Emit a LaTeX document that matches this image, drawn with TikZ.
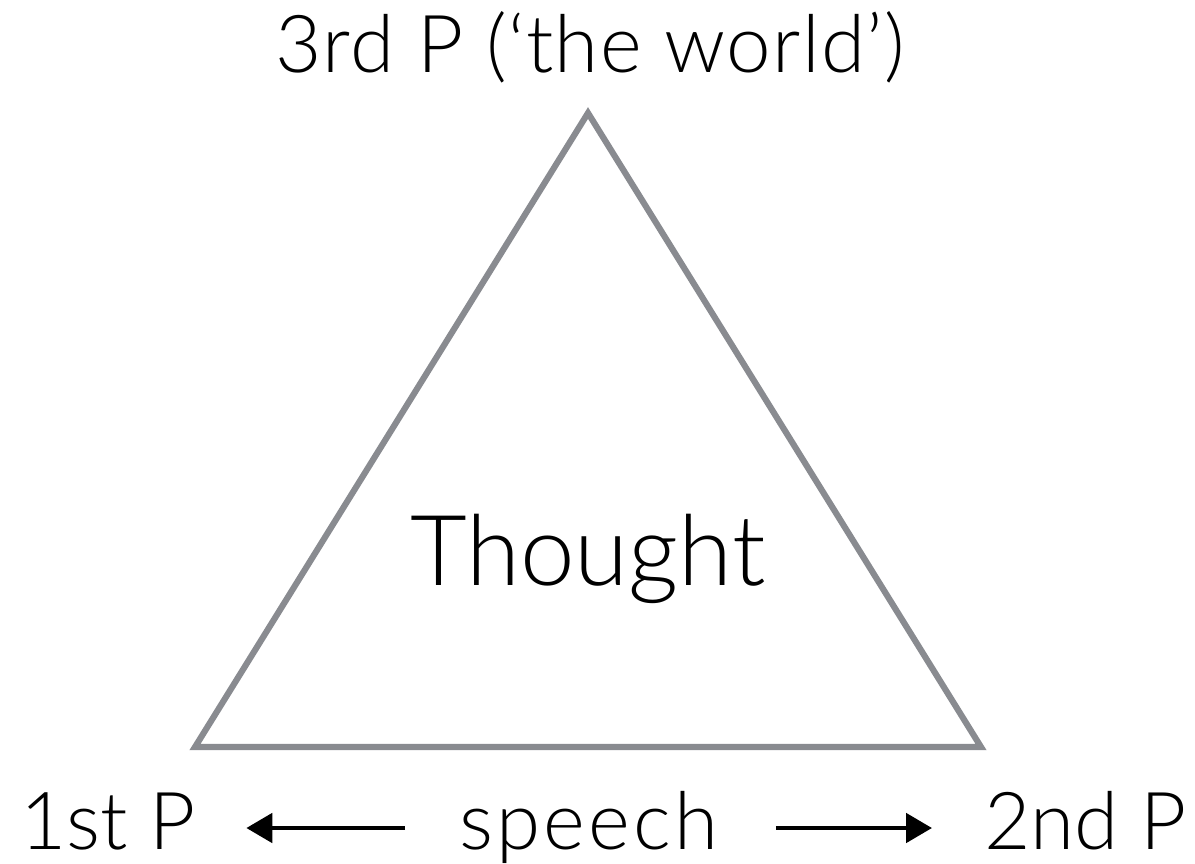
\documentclass[tikz,border=0pt]{standalone}
\usepackage{fontspec}
\setmainfont{Lato Light}
\usetikzlibrary{arrows.meta,positioning}
\definecolor{edgegray}{RGB}{137,139,144}

\begin{document}
\begin{tikzpicture}[
    x=0.02cm,
    y=-0.02cm,
    every node/.style={inner sep=0pt, text=black},
    corner/.style={font=\fontsize{45.5}{50}\selectfont},
    centre/.style={font=\fontsize{55.8}{60}\selectfont},
    spaced/.style={font=\fontsize{45.5}{50}\selectfont\addfontfeature{LetterSpace=#1}},
    side/.style={draw=edgegray, line width=3.5pt, line join=miter},
    speecharrow/.style={-{Triangle[length=0.52cm, width=0.58cm]}, line width=2.8pt}
  ]
    \useasboundingbox (0,0) rectangle (1195,864);
    % triangle
    \coordinate (apex) at (588,113);
    \coordinate (bl) at (195,747);
    \coordinate (br) at (981,747);
    \draw[side] (apex) -- (bl) -- (br) -- cycle;
    % labels
    \node[spaced=1.6, anchor=base] (third) at (590,73) {3rd P (‘the world’)};
    \node[centre, anchor=base] (thought) at (588,585) {Thought};
    \node[corner, anchor=base west] (first) at (20,849) {1st P};
    \node[spaced=4, anchor=base] (speech) at (589,849) {speech};
    \node[corner, anchor=base east] (second) at (1187,849) {2nd P};
    % speech arrows
    \draw[speecharrow] ([xshift=-1.08cm, yshift=0.42cm]speech.base west) -- ([xshift=1.0cm, yshift=0.42cm]first.base east);
    \draw[speecharrow] ([xshift=1.14cm, yshift=0.42cm]speech.base east) -- ([xshift=-1.04cm, yshift=0.42cm]second.base west);
\end{tikzpicture}
\end{document}
